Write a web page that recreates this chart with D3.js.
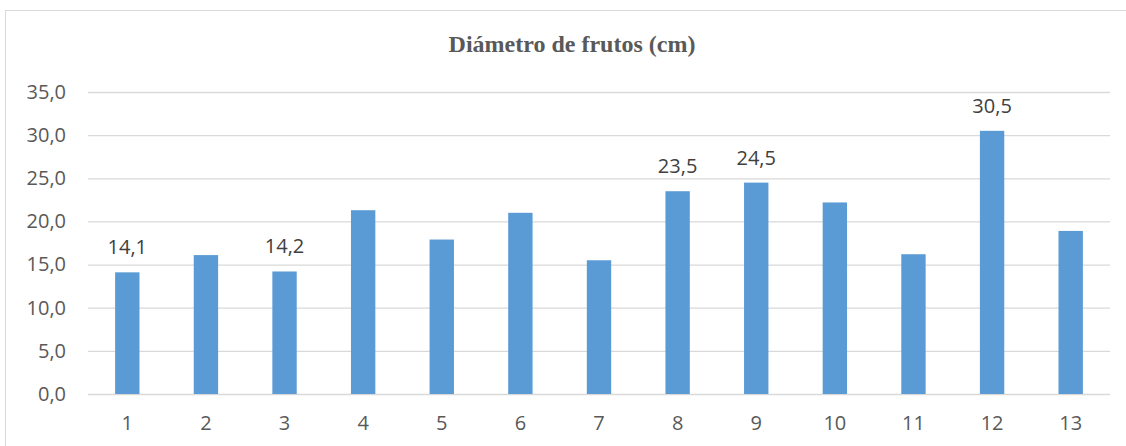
<!DOCTYPE html>
<html>
<head>
<meta charset="utf-8">
<script src="https://cdn.jsdelivr.net/npm/d3@7"></script>
<style>
  html, body { margin: 0; padding: 0; background: #fff; }
  svg { display: block; }
</style>
</head>
<body>
<svg id="chart" width="1126" height="446"></svg>
<script>
// Fruit diameter per sample (cm)
const categories = ["1","2","3","4","5","6","7","8","9","10","11","12","13"];
const diameters = [14.1, 16.1, 14.2, 21.3, 17.9, 21.0, 15.5, 23.5, 24.5, 22.2, 16.2, 30.5, 18.9];
const labelled = ["1","3","8","9","12"];
const yTicks = [0, 5, 10, 15, 20, 25, 30, 35];
const title = "Diámetro de frutos (cm)";

const svg = d3.select("#chart");
const W = 1126, H = 446;
const plot = { left: 88, right: 1110, top: 92, bottom: 394 };

const fmt = v => d3.format(".1f")(v).replace(".", ",");

// chart frame
svg.append("rect")
  .attr("x", 5.5).attr("y", 10.5)
  .attr("width", W).attr("height", H)
  .attr("fill", "#fff")
  .attr("stroke", "#d9d9d9").attr("stroke-width", 1);

const x = d3.scaleBand().domain(categories)
  .range([plot.left, plot.right])
  .paddingInner(0.69).paddingOuter(0.345);
const y = d3.scaleLinear().domain([0, 35]).range([plot.bottom, plot.top]);

// gridlines + y labels
const yAxis = d3.axisLeft(y).tickValues(yTicks).tickFormat(fmt)
  .tickSize(-(plot.right - plot.left)).tickPadding(22);
const gy = svg.append("g").attr("transform", `translate(${plot.left},0)`).call(yAxis);
gy.select(".domain").remove();
gy.selectAll(".tick line").attr("stroke", "#d9d9d9").attr("stroke-width", 1.3);
gy.selectAll(".tick text")
  .attr("fill", "#595959")
  .style("font-family", "'Open Sans', sans-serif")
  .style("font-size", "20px");

// x labels
const xAxis = d3.axisBottom(x).tickSize(0).tickPadding(22);
const gx = svg.append("g").attr("transform", `translate(0,${plot.bottom})`).call(xAxis);
gx.select(".domain").remove();
gx.selectAll(".tick text")
  .attr("fill", "#595959")
  .style("font-family", "'Open Sans', sans-serif")
  .style("font-size", "20px");

// bars
svg.append("g").selectAll("rect")
  .data(categories.map((c, i) => ({ c, v: diameters[i] })))
  .join("rect")
  .attr("x", d => x(d.c))
  .attr("y", d => y(d.v))
  .attr("width", x.bandwidth())
  .attr("height", d => y(0) - y(d.v))
  .attr("fill", "#5b9bd5");

// value labels
svg.append("g").selectAll("text")
  .data(categories.map((c, i) => ({ c, v: diameters[i] })).filter(d => labelled.includes(d.c)))
  .join("text")
  .attr("x", d => x(d.c) + x.bandwidth() / 2)
  .attr("y", d => y(d.v) - 18)
  .attr("text-anchor", "middle")
  .attr("fill", "#404040")
  .style("font-family", "'Open Sans', sans-serif")
  .style("font-size", "20px")
  .text(d => fmt(d.v));

// title
svg.append("text")
  .attr("x", 572).attr("y", 52)
  .attr("text-anchor", "middle")
  .attr("fill", "#595959")
  .style("font-family", "'Liberation Serif', 'Times New Roman', serif")
  .style("font-weight", "bold")
  .style("font-size", "24px")
  .text(title);
</script>
</body>
</html>
